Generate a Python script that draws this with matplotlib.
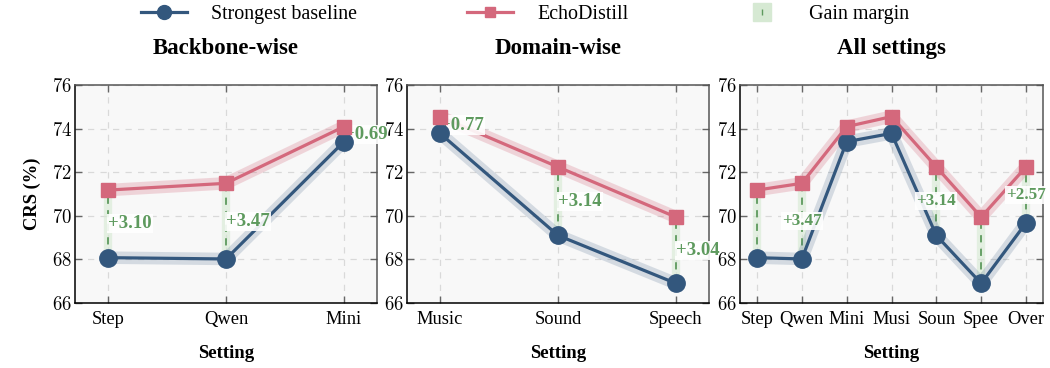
import matplotlib
matplotlib.use("Agg")
import matplotlib.pyplot as plt
from matplotlib.lines import Line2D
from matplotlib.ticker import FuncFormatter

plt.rcParams['font.family'] = ['Liberation Serif', 'DejaVu Serif']
plt.rcParams['mathtext.fontset'] = 'cm'

# ---- data ----
backbone_cats = ["Step", "Qwen", "Mini"]
backbone_base = [68.08, 68.02, 73.40]
backbone_echo = [71.18, 71.49, 74.09]

domain_cats = ["Music", "Sound", "Speech"]
domain_base = [73.78, 69.10, 66.90]
domain_echo = [74.55, 72.24, 69.94]

all_cats = ["Step", "Qwen", "Mini", "Musi", "Soun", "Spee", "Over"]
all_base = [68.08, 68.02, 73.40, 73.78, 69.10, 66.90, 69.67]
all_echo = [71.18, 71.49, 74.09, 74.55, 72.24, 69.94, 72.24]
all_labeled = ["Qwen", "Soun", "Over"]

titles = ["Backbone-wise", "Domain-wise", "All settings"]

BLUE = "#33577d"
PINK = "#d4687c"
GREEN = "#5e9a5e"
LGREEN = "#d6e9d3"

fig = plt.figure(figsize=(10.5, 3.68), dpi=100)
W, H = 1050, 368
boxes = [(75, 377), (407, 709), (740, 1043)]
top_px, bot_px = 85, 303

panels = [
    (backbone_cats, backbone_base, backbone_echo, backbone_cats, 0.28, 'left', 13.5),
    (domain_cats, domain_base, domain_echo, domain_cats, 0.28, 'left', 13.5),
    (all_cats, all_base, all_echo, all_labeled, 0.38, 'center', 12.3),
]

for i, ((l, r), (cats, base, echo, labeled, margin, ha, fs)) in enumerate(zip(boxes, panels)):
    ax = fig.add_axes([l / W, 1 - bot_px / H, (r - l) / W, (bot_px - top_px) / H])
    ax.set_facecolor("#f8f8f8")
    x = list(range(len(cats)))
    # gain margins
    for xi, b, e, c in zip(x, base, echo, cats):
        ax.vlines(xi, b, e, color=LGREEN, lw=6, alpha=0.6, zorder=1)
        ax.vlines(xi, b, e, color=GREEN, lw=1.3, linestyles=(0, (4, 3.5)), zorder=2)
        if c in labeled:
            g = e - b
            ax.text(xi, (b + e) / 2, f"+{g:.2f}", color=GREEN, fontsize=fs,
                    fontweight='bold', ha=ha, va='center', zorder=4.5,
                    bbox=dict(boxstyle='square,pad=0.06', fc='white', ec='none', alpha=0.9),
                    clip_on=False)
    # soft bands behind lines
    ax.plot(x, base, color=BLUE, lw=9, alpha=0.18, solid_capstyle='round', zorder=2)
    ax.plot(x, echo, color=PINK, lw=9, alpha=0.25, solid_capstyle='round', zorder=2)
    ax.plot(x, base, color=BLUE, lw=2.3, zorder=4)
    ax.plot(x, echo, color=PINK, lw=2.3, zorder=4)
    ax.plot(x, base, color=BLUE, ls='none', marker='o', ms=12.5, zorder=6)
    ax.plot(x, echo, color=PINK, ls='none', marker='s', ms=10, zorder=6)

    ax.set_xlim(-margin, len(cats) - 1 + margin)
    ax.set_ylim(66, 76)
    ax.set_yticks(range(66, 77, 2))
    ax.yaxis.set_major_formatter(FuncFormatter(lambda v, p: f"${int(v)}$"))
    ax.set_xticks(x)
    ax.set_xticklabels(cats, fontsize=13.3)
    ax.tick_params(axis='y', labelsize=13.5, pad=2)
    ax.tick_params(axis='x', pad=6)
    ax.tick_params(direction='in', length=5, width=1, color='#666666',
                   top=True, right=True)
    ax.grid(True, ls=(0, (5, 5)), color='#d9d9d9', lw=0.9, zorder=0)
    ax.set_axisbelow(True)
    for s in ['left', 'bottom']:
        ax.spines[s].set_color('black')
        ax.spines[s].set_linewidth(1.1)
    for s in ['top', 'right']:
        ax.spines[s].set_color('#555555')
        ax.spines[s].set_linewidth(1.1)
    ax.set_xlabel("Setting", fontsize=13.5, fontweight='bold', labelpad=12)
    if i == 0:
        ax.set_ylabel("CRS (%)", fontsize=13.3, fontweight='bold', labelpad=8)
    ax.set_title(titles[i], fontsize=16.5, fontweight='bold', pad=22)

handles = [
    Line2D([], [], color=BLUE, lw=2.3, marker='o', ms=10),
    Line2D([], [], color=PINK, lw=2.3, marker='s', ms=7.5),
    (Line2D([], [], color=LGREEN, marker='s', ms=13, ls='none'),
     Line2D([], [], color=GREEN, marker='|', ms=5, ls='none')),
]
fig.legend(handles, ["Strongest baseline", "EchoDistill", "Gain margin"],
           loc='upper center', bbox_to_anchor=(0.5, 1.035), ncol=3, frameon=False,
           fontsize=14.4, columnspacing=5.5, handlelength=2.3, handletextpad=1.2)

fig.savefig("out.png", dpi=100)
